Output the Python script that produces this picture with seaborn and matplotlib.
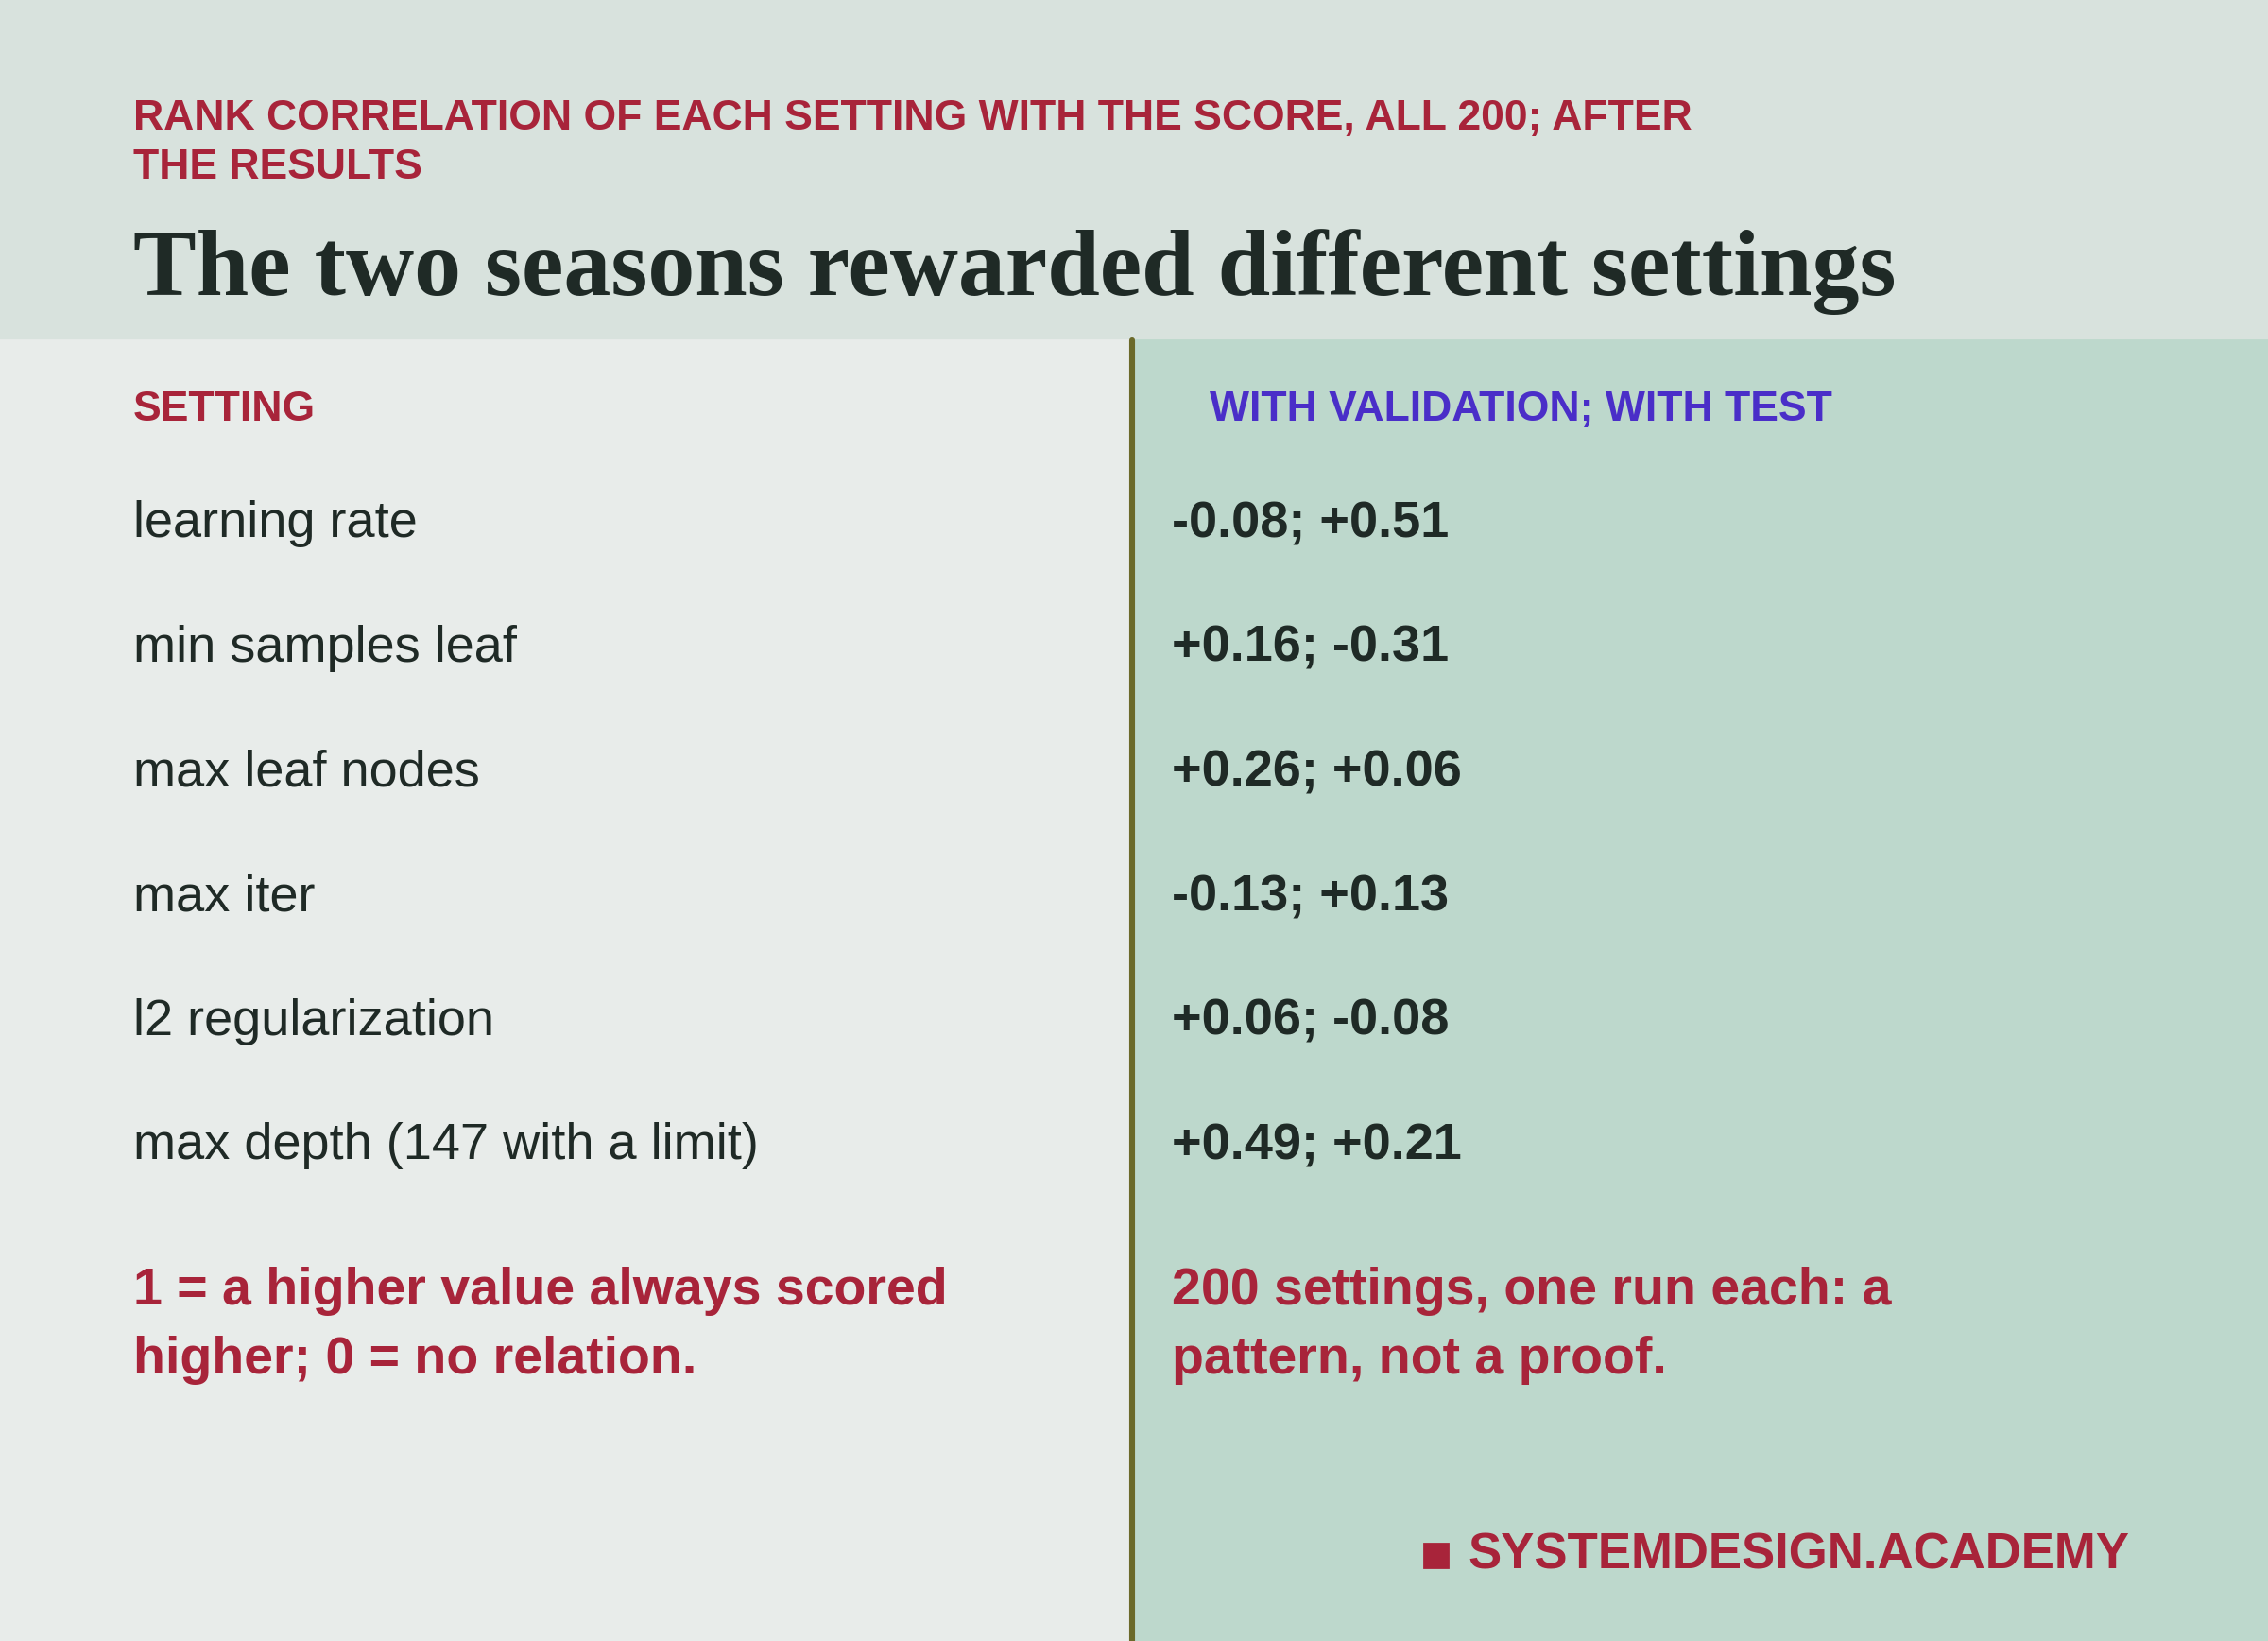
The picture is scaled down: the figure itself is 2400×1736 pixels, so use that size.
import matplotlib.pyplot as plt
import seaborn as sns
from matplotlib.patches import Rectangle

sns.set_theme(style="white")
plt.rcParams['font.family'] = ['Liberation Sans', 'DejaVu Sans']

settings = ["learning rate", "min samples leaf", "max leaf nodes", "max iter",
            "l2 regularization", "max depth (147 with a limit)"]
with_validation = [-0.08, 0.16, 0.26, -0.13, 0.06, 0.49]
with_test = [0.51, -0.31, 0.06, 0.13, -0.08, 0.21]

RED = "#a8243a"
DARK = "#1f2a26"
BLUE = "#4a2ec8"

fig = plt.figure(figsize=(12, 8.68), dpi=200)
ax = fig.add_axes([0, 0, 1, 1])
W, H = 1568, 1134
ax.set_xlim(0, W)
ax.set_ylim(H, 0)
ax.axis("off")

ax.add_patch(Rectangle((0, 0), W, 235, color="#d8e2dd", zorder=0))
ax.add_patch(Rectangle((0, 235), 783, H - 235, color="#e8ecea", zorder=0))
ax.add_patch(Rectangle((783, 235), W - 783, H - 235, color="#bdd8cc", zorder=0))
ax.plot([783, 783], [235, H], color="#6b6a2a", lw=2.2, zorder=1)

ax.text(92, 82, "RANK CORRELATION OF EACH SETTING WITH THE SCORE, ALL 200; AFTER",
        color=RED, fontsize=16, fontweight="bold", va="center", ha="left")
ax.text(92, 116, "THE RESULTS", color=RED, fontsize=16, fontweight="bold", va="center")
ax.text(92, 188, "The two seasons rewarded different settings", color=DARK,
        fontsize=36, fontweight="bold", family=["Liberation Serif"], va="center")

ax.text(92, 283, "SETTING", color=RED, fontsize=16, fontweight="bold", va="center")
ax.text(836, 283, "WITH VALIDATION; WITH TEST", color=BLUE, fontsize=16,
        fontweight="bold", va="center")

for i, (name, v, t) in enumerate(zip(settings, with_validation, with_test)):
    y = 362 + i * 86
    ax.text(92, y, name, color=DARK, fontsize=19.5, va="center")
    ax.text(810, y, f"{v:+.2f}; {t:+.2f}", color=DARK, fontsize=19.5,
            fontweight="bold", va="center")

ax.text(92, 892, "1 = a higher value always scored", color=RED, fontsize=20,
        fontweight="bold", va="center")
ax.text(92, 940, "higher; 0 = no relation.", color=RED, fontsize=20,
        fontweight="bold", va="center")
ax.text(810, 892, "200 settings, one run each: a", color=RED, fontsize=20,
        fontweight="bold", va="center")
ax.text(810, 940, "pattern, not a proof.", color=RED, fontsize=20,
        fontweight="bold", va="center")

footer = ax.text(1472, 1075, "SYSTEMDESIGN.ACADEMY", color=RED, fontsize=19,
                 fontweight="bold", va="center", ha="right")
fig.canvas.draw()
bb = footer.get_window_extent().transformed(ax.transData.inverted())
x0 = min(bb.x0, bb.x1)
ax.add_patch(Rectangle((x0 - 30, 1067), 16, 16, color=RED, zorder=2))

fig.savefig("out.png", dpi=200)
